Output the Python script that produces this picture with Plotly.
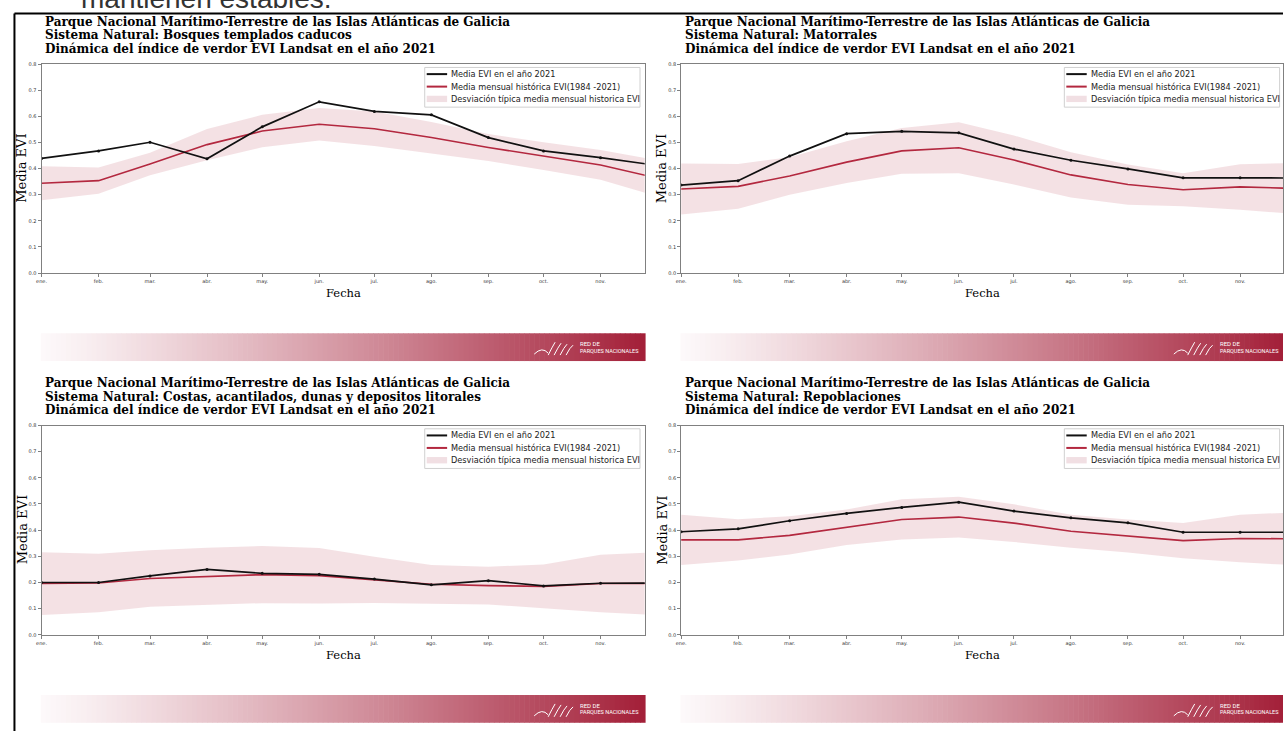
import plotly.graph_objects as go

W, H = 1284, 734

# ---------------- data ----------------
MONTH_DATES = ["2021-01-01", "2021-02-01", "2021-03-01", "2021-04-01", "2021-05-01", "2021-06-01",
               "2021-07-01", "2021-08-01", "2021-09-01", "2021-10-01", "2021-11-01", "2021-12-01"]
TICK_DATES = MONTH_DATES[:11]
TICK_LABELS = ["ene.", "feb.", "mar.", "abr.", "may.", "jun.", "jul.", "ago.", "sep.", "oct.", "nov."]
Y_TICKS = [0.0, 0.1, 0.2, 0.3, 0.4, 0.5, 0.6, 0.7, 0.8]

PARK_TITLE = "Parque Nacional Marítimo-Terrestre de las Islas Atlánticas de Galicia"
DYN_TITLE = "Dinámica del índice de verdor EVI Landsat en el año 2021"
SYSTEMS = ["Bosques templados caducos", "Matorrales",
           "Costas, acantilados, dunas y depositos litorales", "Repoblaciones"]
LEGEND_LABELS = ["Media EVI en el año 2021", "Media mensual histórica EVI(1984 -2021)",
                 "Desviación típica media mensual historica EVI"]

evi_2021_bosques = [0.439, 0.468, 0.501, 0.438, 0.560, 0.656, 0.619, 0.606, 0.519, 0.468, 0.442, 0.413]
hist_mean_bosques = [0.344, 0.354, 0.418, 0.492, 0.544, 0.570, 0.553, 0.519, 0.481, 0.448, 0.414, 0.365]
hist_std_bosques = [0.065, 0.050, 0.043, 0.060, 0.062, 0.062, 0.066, 0.060, 0.052, 0.053, 0.057, 0.069]

evi_2021_matorrales = [0.337, 0.354, 0.448, 0.534, 0.543, 0.537, 0.475, 0.432, 0.399, 0.365, 0.365, 0.364]
hist_mean_matorrales = [0.322, 0.332, 0.372, 0.425, 0.468, 0.480, 0.433, 0.376, 0.339, 0.319, 0.330, 0.324]
hist_std_matorrales = [0.098, 0.086, 0.072, 0.080, 0.088, 0.098, 0.094, 0.087, 0.077, 0.063, 0.087, 0.098]

evi_2021_costas = [0.200, 0.200, 0.225, 0.250, 0.235, 0.231, 0.213, 0.191, 0.207, 0.187, 0.197, 0.198]
hist_mean_costas = [0.196, 0.198, 0.215, 0.224, 0.230, 0.226, 0.210, 0.193, 0.188, 0.185, 0.196, 0.196]
hist_std_costas = [0.120, 0.112, 0.108, 0.109, 0.109, 0.106, 0.088, 0.074, 0.072, 0.084, 0.110, 0.120]

evi_2021_repoblaciones = [0.394, 0.405, 0.436, 0.464, 0.487, 0.507, 0.473, 0.447, 0.428, 0.392, 0.392, 0.392]
hist_mean_repoblaciones = [0.363, 0.363, 0.380, 0.411, 0.441, 0.450, 0.427, 0.396, 0.378, 0.360, 0.368, 0.367]
hist_std_repoblaciones = [0.096, 0.079, 0.073, 0.068, 0.077, 0.078, 0.072, 0.063, 0.063, 0.067, 0.091, 0.101]

SERIES = [
    (evi_2021_bosques, hist_mean_bosques, hist_std_bosques),
    (evi_2021_matorrales, hist_mean_matorrales, hist_std_matorrales),
    (evi_2021_costas, hist_mean_costas, hist_std_costas),
    (evi_2021_repoblaciones, hist_mean_repoblaciones, hist_std_repoblaciones),
]

# ---------------- style / layout ----------------
BLACK = "#111111"
RED = "#b3283f"
BAND = "rgba(178,40,66,0.14)"
AXIS_GRAY = "#808080"
SERIF = "DejaVu Serif"
SANS = "DejaVu Sans"

# panel plot areas in pixels: left, right, top, bottom, x-range end
PANELS = [
    (36.7, 642.7, 61.7, 272.3, "2021-11-25"),
    (679.3, 1284.0, 61.7, 272.3, "2021-11-24 08:00"),
    (36.7, 642.7, 426.0, 637.0, "2021-11-25"),
    (679.3, 1284.0, 426.0, 637.0, "2021-11-24 08:00"),
]


def px(x):
    return x / W


def py(y):
    return 1 - y / H


fig = go.Figure()
shapes = []
annotations = []

for i, ((ev, mean, std), (l, r, t, b, xend)) in enumerate(zip(SERIES, PANELS)):
    n = "" if i == 0 else str(i + 1)
    xa, ya = "x" + n, "y" + n
    lower = [m - s for m, s in zip(mean, std)]
    upper = [m + s for m, s in zip(mean, std)]
    fig.add_trace(go.Scatter(x=MONTH_DATES, y=lower, mode="lines", line=dict(width=0, color=BAND),
                             showlegend=False, hoverinfo="skip", xaxis=xa, yaxis=ya))
    fig.add_trace(go.Scatter(x=MONTH_DATES, y=upper, mode="lines", line=dict(width=0, color=BAND),
                             fill="tonexty", fillcolor=BAND, name=LEGEND_LABELS[2],
                             showlegend=False, xaxis=xa, yaxis=ya))
    fig.add_trace(go.Scatter(x=MONTH_DATES, y=mean, mode="lines", line=dict(width=1.6, color=RED),
                             name=LEGEND_LABELS[1], showlegend=False, xaxis=xa, yaxis=ya))
    fig.add_trace(go.Scatter(x=MONTH_DATES, y=ev, mode="lines+markers", line=dict(width=1.7, color=BLACK),
                             marker=dict(size=3, color=BLACK), name=LEGEND_LABELS[0],
                             showlegend=False, xaxis=xa, yaxis=ya))

    axis_common = dict(showline=True, mirror=True, linecolor=AXIS_GRAY, linewidth=1,
                       showgrid=False, zeroline=False, ticks="outside", ticklen=3,
                       tickcolor=AXIS_GRAY, tickwidth=1,
                       tickfont=dict(family=SANS, size=5, color="#333333"))
    fig.update_layout(**{
        "xaxis" + n: dict(domain=[px(l), px(r)], anchor=ya, type="date",
                          range=["2021-01-01", xend], tickvals=TICK_DATES, ticktext=TICK_LABELS,
                          **axis_common),
        "yaxis" + n: dict(domain=[py(b), py(t)], anchor=xa, range=[0, 0.8],
                          tickvals=Y_TICKS, tickformat=".1f", **axis_common),
    })

    # titles
    tx = l + 1.5
    for k, txt in enumerate([PARK_TITLE, "Sistema Natural: " + SYSTEMS[i], DYN_TITLE]):
        annotations.append(dict(x=px(tx), y=py(t - 42.7 + 13.5 * k), xref="paper", yref="paper",
                                text=txt, showarrow=False, xanchor="left", yanchor="middle",
                                font=dict(family=SERIF, size=12, color="#000000", weight="bold"),
                                ))
    # axis titles
    annotations.append(dict(x=px(l - 19.5), y=py((t + b) / 2), xref="paper", yref="paper",
                            text="Media EVI", showarrow=False, textangle=-90,
                            xanchor="center", yanchor="middle",
                            font=dict(family=SERIF, size=13, color="#000000")))
    full_r = l + 606
    annotations.append(dict(x=px((l + full_r) / 2), y=py(b + 20), xref="paper", yref="paper",
                            text="Fecha", showarrow=False, xanchor="center", yanchor="middle",
                            font=dict(family=SERIF, size=11.5, color="#000000")))

    # manual legend (upper right)
    lg_r = full_r - 4.7
    lg_l = lg_r - 216.3
    lg_t = t + 3.3
    lg_b = t + 43.3
    shapes.append(dict(type="rect", xref="paper", yref="paper", x0=px(lg_l), x1=px(lg_r),
                       y0=py(lg_b), y1=py(lg_t), line=dict(color="#d0d0d0", width=1),
                       fillcolor="rgba(255,255,255,0.85)", layer="above"))
    rows = [t + 10.0, t + 22.6, t + 35.0]
    s0, s1 = lg_l + 2, lg_l + 22.5
    shapes.append(dict(type="line", xref="paper", yref="paper", x0=px(s0), x1=px(s1),
                       y0=py(rows[0]), y1=py(rows[0]), line=dict(color=BLACK, width=2), layer="above"))
    shapes.append(dict(type="line", xref="paper", yref="paper", x0=px(s0), x1=px(s1),
                       y0=py(rows[1]), y1=py(rows[1]), line=dict(color=RED, width=2), layer="above"))
    shapes.append(dict(type="rect", xref="paper", yref="paper", x0=px(s0), x1=px(s1),
                       y0=py(rows[2] + 3.2), y1=py(rows[2] - 3.2), line=dict(width=0),
                       fillcolor="#f1dfe3", layer="above"))
    for k in range(3):
        annotations.append(dict(x=px(lg_l + 24.5), y=py(rows[k]), xref="paper", yref="paper",
                                text=LEGEND_LABELS[k], showarrow=False, xanchor="left",
                                yanchor="middle", font=dict(family=SANS, size=8.2, color="#222222")))

    # gradient banner with logo text
    bl = l - 0.7
    bt, bb = b + 60.7, b + 88.7
    nseg = 120
    c0 = (253, 249, 250)
    c1 = (163, 31, 56)
    fullw = full_r + 0.3 - bl
    for s in range(nseg):
        x0 = bl + fullw * s / nseg
        x1 = bl + fullw * (s + 1) / nseg + 0.6
        if x0 >= W:
            break
        f = ((s + 0.5) / nseg) ** 1.15
        col = "rgb(%d,%d,%d)" % tuple(round(c0[j] + (c1[j] - c0[j]) * f) for j in range(3))
        shapes.append(dict(type="rect", xref="paper", yref="paper", x0=px(x0), x1=px(min(x1, W)),
                           y0=py(bb), y1=py(bt), line=dict(width=0), fillcolor=col, layer="below"))
    lx = full_r - 67
    annotations.append(dict(x=px(lx), y=py(bt + 10.5), xref="paper", yref="paper", text="RED DE",
                            showarrow=False, xanchor="left", yanchor="middle",
                            font=dict(family="Roboto", size=6, color="#ffffff")))
    annotations.append(dict(x=px(lx), y=py(bt + 17.5), xref="paper", yref="paper",
                            text="PARQUES NACIONALES", showarrow=False, xanchor="left",
                            yanchor="middle", font=dict(family="Roboto", size=5.5, color="#ffffff")))
    # stylised logo strokes
    lx0 = lx - 44
    path = ("M %f %f Q %f %f %f %f " % (px(lx0), py(bt + 21), px(lx0 + 8), py(bt + 13), px(lx0 + 14), py(bt + 20)))
    shapes.append(dict(type="path", xref="paper", yref="paper", path=path,
                       line=dict(color="#ffffff", width=1)))
    for k in range(4):
        xs = lx0 + 14 + k * 6
        shapes.append(dict(type="path", xref="paper", yref="paper",
                           path="M %f %f Q %f %f %f %f" % (px(xs), py(bt + 22), px(xs + 4), py(bt + 14),
                                                           px(xs + 7), py(bt + 9 + k)),
                           line=dict(color="#ffffff", width=1)))

# page frame and clipped text at the top
shapes.append(dict(type="line", xref="paper", yref="paper", x0=px(9.5), x1=1, y0=py(10.5), y1=py(10.5),
                   line=dict(color="#000000", width=2)))
shapes.append(dict(type="line", xref="paper", yref="paper", x0=px(9.5), x1=px(9.5), y0=0, y1=py(10.5),
                   line=dict(color="#000000", width=2)))
annotations.append(dict(x=px(74), y=py(13), xref="paper", yref="paper", text="mantienen estables.",
                        showarrow=False, xanchor="left", yanchor="bottom",
                        font=dict(family="Liberation Sans", size=28, color="#333333")))

fig.update_layout(width=W, height=H, margin=dict(l=0, r=0, t=0, b=0),
                  paper_bgcolor="white", plot_bgcolor="white",
                  shapes=shapes, annotations=annotations, showlegend=False)

fig.write_html("out.html", config={"displayModeBar": False},
               post_script="document.body.style.margin='0';document.body.style.overflow='hidden';")
